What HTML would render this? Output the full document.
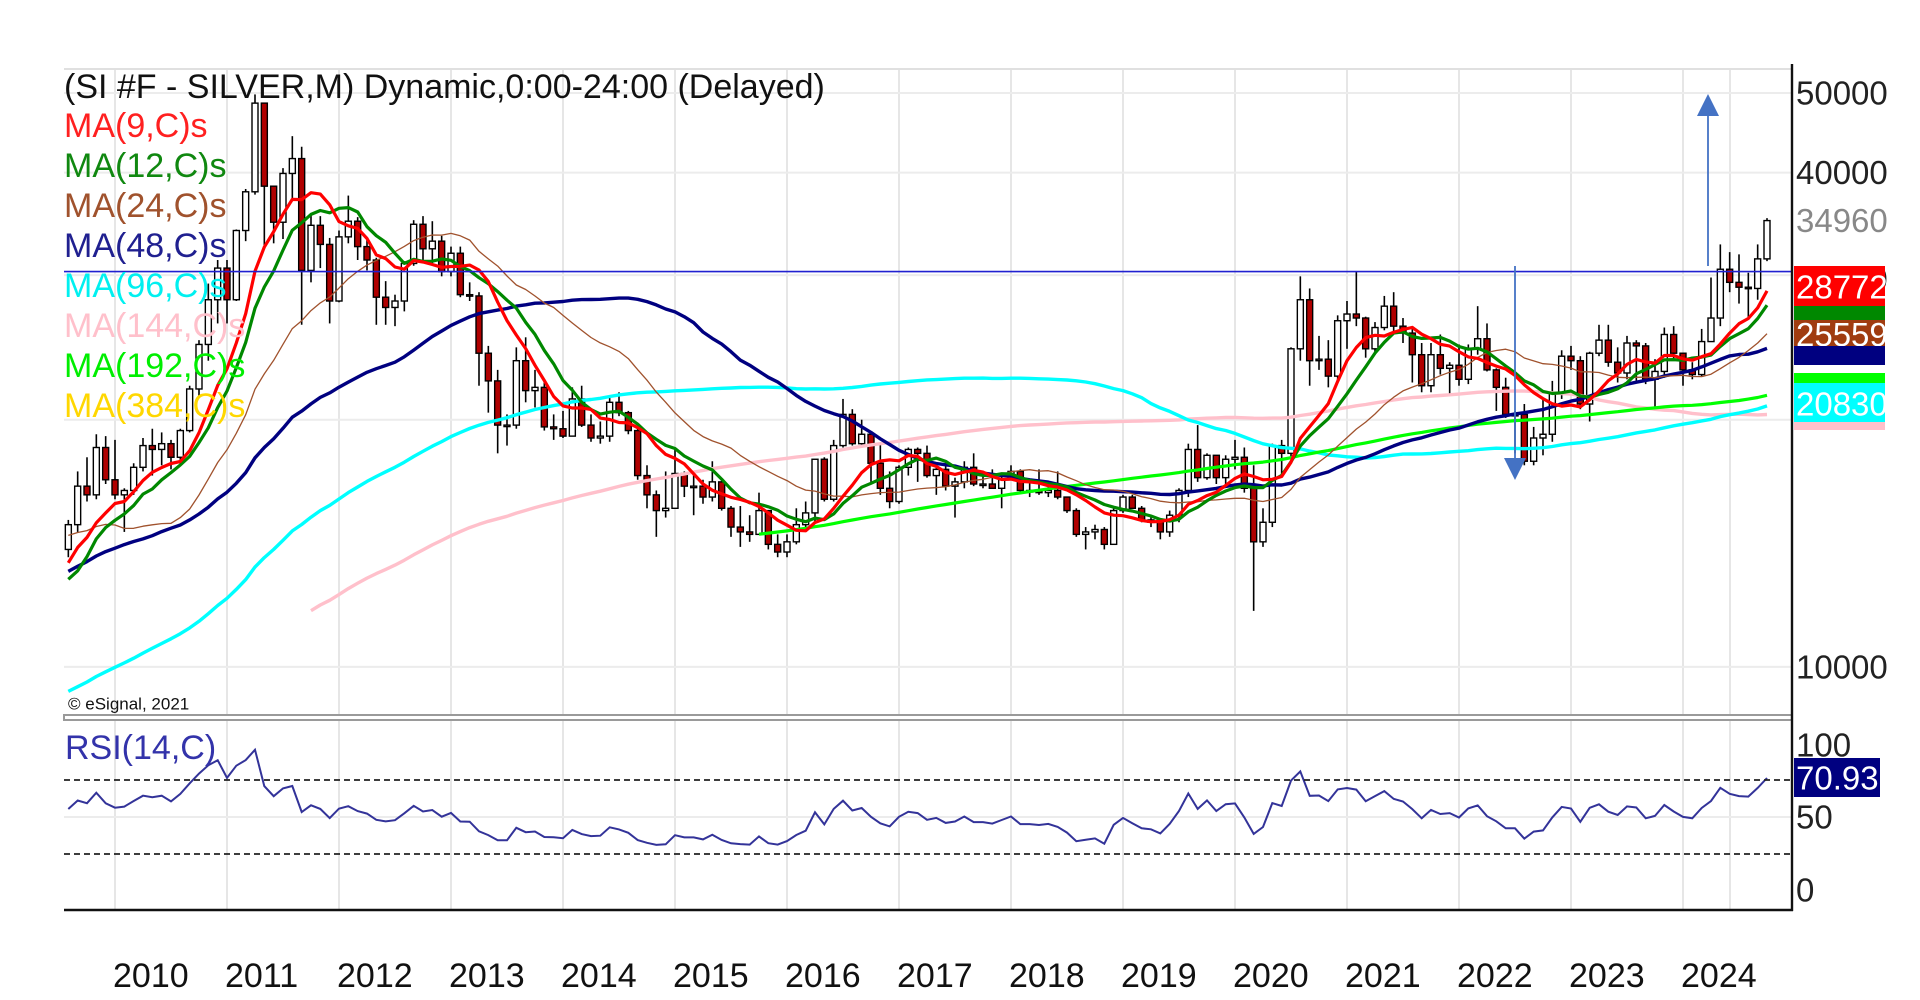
<!DOCTYPE html>
<html><head><meta charset="utf-8"><style>
html,body{margin:0;padding:0;background:#fff;width:1920px;height:1000px;overflow:hidden}
svg{display:block}
text{font-family:"Liberation Sans",Arial,sans-serif}
</style></head><body>
<svg id="chart" width="1920" height="1000" viewBox="0 0 1920 1000" xmlns="http://www.w3.org/2000/svg">
<defs>
<clipPath id="pclip"><rect x="64" y="68" width="1728" height="648"/></clipPath>
<clipPath id="rclip"><rect x="64" y="724" width="1728" height="186"/></clipPath>
</defs>
<g id="grid"></g>
<g id="candles" clip-path="url(#pclip)"></g>
<g id="mas" clip-path="url(#pclip)"></g>
<g id="rsi" clip-path="url(#rclip)"></g>
<g id="axes"></g>
<g id="labels"></g>
</svg>
<script>
// ---- data (USD * 1000 / oz, monthly) ----
const priorCloses = [5.1,5.4,
5.3,5.1,5.0,5.0,5.0,5.0,4.9,4.9,4.9,4.8,4.7,4.6,
4.7,4.4,4.3,4.4,4.4,4.3,4.2,4.2,4.6,4.2,4.1,4.6,
4.2,4.5,4.5,4.6,4.8,4.9,4.6,4.5,4.5,4.5,4.5,4.8,
4.8,4.6,4.4,4.6,4.6,4.6,5.1,5.0,5.2,5.0,5.4,5.9,
6.2,6.7,7.8,6.1,6.0,5.9,6.6,6.7,7.0,7.3,7.6,6.8,
6.7,7.4,7.1,6.9,7.4,7.0,7.1,6.9,7.5,7.7,8.3,8.9,
9.8,9.6,11.6,13.5,12.3,10.7,11.3,12.9,11.5,12.6,13.9,12.9,
13.4,14.3,13.4,13.4,13.4,12.5,12.9,12.0,13.8,14.3,14.4,14.8,
16.8,19.8,17.4,16.5,17.0,17.5,17.7,13.6,12.9,9.8,10.2,11.3,
12.6,13.1,13.1,12.5,15.6,13.5,13.9];
const closes = [14.9,16.6,16.2,18.5,16.9,
16.2,16.4,17.5,18.6,18.4,18.7,18.0,19.4,21.8,24.7,28.0,30.6,
28.0,34.0,37.9,48.6,38.5,34.8,39.9,41.6,30.4,34.5,32.7,27.9,
33.4,34.9,32.5,31.3,28.2,27.4,27.9,31.0,34.6,32.3,33.0,30.3,
31.9,28.4,28.3,24.1,22.3,19.7,19.7,23.6,21.7,21.9,19.6,19.5,
19.1,21.2,19.7,19.0,19.1,21.0,20.4,19.4,17.1,16.2,15.5,15.6,
17.2,16.6,16.6,16.1,16.8,15.6,14.8,14.6,14.5,15.5,14.1,13.8,
14.2,14.9,15.4,17.9,16.0,18.6,20.3,18.7,19.2,17.7,16.5,15.9,
17.5,18.4,18.2,17.1,17.4,16.6,16.8,17.5,16.7,16.7,16.5,16.9,
17.3,16.4,16.4,16.3,16.4,16.1,15.5,14.5,14.6,14.7,14.1,15.5,
16.1,15.6,15.1,15.0,14.6,15.3,16.4,18.4,17.0,18.1,17.0,17.9,
18.0,16.5,14.2,15.0,18.6,18.2,24.4,28.0,23.6,23.7,22.6,26.4,
26.9,26.6,24.4,25.9,27.5,26.0,25.5,24.0,22.0,24.0,23.1,23.3,
22.4,24.4,25.1,23.0,21.9,20.3,20.3,17.8,19.0,19.2,21.6,23.9,
23.6,20.9,24.1,25.0,23.5,22.8,24.8,24.6,22.4,22.9,25.4,24.1,
23.0,22.7,24.9,26.6,30.5,29.4,29.0,28.9,31.4,34.96];
const highs = [15.1,17.3,18.0,19.2,19.1,
18.9,16.5,17.7,19.0,19.5,19.3,18.9,19.5,22.0,25.0,29.3,31.3,
31.3,34.1,38.2,49.8,48.6,38.3,40.5,44.3,43.0,35.5,35.4,33.3,
34.0,37.5,35.3,33.2,31.5,29.5,28.4,31.2,35.0,35.4,34.9,33.5,
32.5,32.5,29.4,28.6,24.6,23.0,20.3,24.5,25.2,23.0,22.3,20.3,
20.5,21.9,22.0,20.3,19.9,21.4,21.6,20.5,19.6,17.6,16.4,17.3,
18.5,17.3,17.3,16.9,17.8,16.9,15.7,15.7,15.3,16.3,15.5,14.5,
14.5,15.6,15.9,17.9,18.0,18.9,21.2,20.6,20.0,19.3,18.7,17.3,
17.6,18.5,18.5,18.6,17.6,17.8,17.0,17.8,18.2,17.3,17.4,17.1,
17.6,17.4,16.8,17.4,16.7,17.3,16.1,15.6,14.8,14.9,14.8,15.6,
16.2,16.2,15.7,15.3,15.0,15.5,16.5,18.7,19.7,18.2,18.1,18.1,
18.9,18.5,17.6,15.6,18.7,18.9,24.5,29.9,28.9,25.3,25.0,26.8,
27.9,30.3,26.7,26.3,28.3,28.6,26.6,26.0,24.8,24.8,25.4,23.5,
24.7,24.7,27.5,26.2,23.1,22.5,20.5,20.9,19.6,21.2,22.3,24.3,
24.6,23.9,24.2,26.1,26.1,24.5,25.3,25.0,24.8,23.7,25.9,26.0,
24.1,23.5,25.8,29.8,32.7,32.0,31.8,30.2,32.7,35.2];
const lows = [13.6,14.6,15.9,16.0,16.7,
16.0,14.6,16.2,17.3,17.1,17.6,17.4,17.6,19.3,21.4,23.6,26.2,
26.2,27.9,33.0,37.6,32.3,32.8,33.2,37.0,26.1,29.4,30.6,26.2,
27.8,32.8,31.3,30.4,26.1,26.1,26.0,27.1,30.8,31.0,30.9,29.9,
29.9,28.2,27.9,22.0,20.4,18.2,18.6,19.5,21.0,20.7,19.4,18.9,
19.0,19.3,19.6,18.8,18.7,18.8,20.2,19.2,16.9,15.6,14.4,15.2,
15.6,16.1,15.3,15.8,15.9,15.5,14.4,14.0,14.2,14.5,13.9,13.6,
13.6,14.1,14.8,15.0,15.9,15.9,18.5,18.6,18.6,16.8,16.2,15.6,
15.8,17.1,16.8,17.0,16.2,16.4,15.2,16.5,16.6,16.5,16.5,15.6,
16.9,16.3,16.1,16.2,16.1,16.0,15.4,14.4,13.9,14.3,13.9,14.2,
15.4,15.6,15.0,14.8,14.3,14.4,15.0,16.1,16.8,16.9,16.7,16.6,
17.4,16.3,11.7,14.0,14.8,17.1,18.0,23.6,22.0,23.0,21.9,22.2,
24.4,26.0,23.8,24.0,25.7,25.6,24.8,22.2,21.6,21.6,22.7,21.5,
22.0,22.1,24.0,22.9,20.5,20.1,18.2,17.6,17.6,18.1,18.8,21.2,
23.0,20.6,19.9,23.9,23.2,22.2,22.4,22.3,22.1,20.7,22.5,23.6,
22.0,22.4,22.6,25.0,26.0,28.6,27.7,26.5,28.0,31.2];
const firstMonth = -5; // Aug 2009 relative to Jan 2010
const yearLabels = ["2010","2011","2012","2013","2014","2015","2016","2017","2018","2019","2020","2021","2022","2023","2024"];
const priceTicks = [50000,40000,10000];
const priceGrid = [10000,20000,30000,40000,50000];
const rsiTicks = [100,50,0];
const maPeriods = [9,12,24,48,96,144,192];
const resistance = 30300;
const lastPrice = 34960;

// ---- scales ----
const SVGNS="http://www.w3.org/2000/svg";
const X0=115, MW=112/12;
function xM(m){return X0+MW*m;}
function yP(v){return 93+(Math.log10(50000)-Math.log10(v))*821;}
function yR(v){return 817-(v-50)*1.85;}
function mk(tag,attrs,parent){const e=document.createElementNS(SVGNS,tag);for(const k in attrs)e.setAttribute(k,attrs[k]);parent.appendChild(e);return e;}
const G=id=>document.getElementById(id);

// grid
const grid=G('grid');
yearLabels.forEach((y,k)=>{
  const l=mk('line',{x1:xM(12*k),x2:xM(12*k),y1:68,y2:910,stroke:'#e6e6e6','stroke-width':2},grid);
  
  
});
const xl=mk('line',{x1:1730,x2:1730,y1:68,y2:910,stroke:'#e6e6e6','stroke-width':2},grid);


priceGrid.forEach(v=>{
  const l=mk('line',{x1:64,x2:1792,y1:yP(v),y2:yP(v),stroke:'#ececec','stroke-width':2},grid);
  
  
});
const rg=mk('line',{x1:64,x2:1792,y1:yR(50),y2:yR(50),stroke:'#ececec','stroke-width':2},grid);



const all=priorCloses.concat(closes).map(v=>v*1000);
const off=priorCloses.length;

// candles
const cg=G('candles');
for(let i=0;i<closes.length;i++){
  const m=firstMonth+i, x=xM(m);
  const c=closes[i]*1000, o=all[off+i-1], h=highs[i]*1000, l=lows[i]*1000;
  const w=mk('line',{x1:x,x2:x,y1:yP(h),y2:yP(l),stroke:'#000','stroke-width':1.6},cg);
  
  
  const top=yP(Math.max(o,c)), bot=yP(Math.min(o,c));
  const b=mk('rect',{x:x-3,y:top,width:6,height:Math.max(1.5,bot-top),fill:c>=o?'#fff':'#b00000',stroke:'#000','stroke-width':1.4},cg);
  
  
}

// MAs
const mg=G('mas');
const maStyle={9:['#ff0000',3.2],12:['#008800',3.2],24:['#a0522d',1.3],48:['#000080',3.4],96:['#00ffff',3.4],144:['#ffc0cb',3.4],192:['#00ff00',3.2]};
const order=[144,96,192,48,24,12,9];
order.forEach(p=>{
  let d='';
  for(let i=0;i<closes.length;i++){
    const idx=off+i; if(idx-p+1<0) continue;
    let s=0; for(let j=idx-p+1;j<=idx;j++) s+=all[j];
    d+=(d?'L':'M')+xM(firstMonth+i).toFixed(1)+','+yP(s/p).toFixed(1);
  }
  const pa=mk('path',{d:d,fill:'none',stroke:maStyle[p][0],'stroke-width':maStyle[p][1],'stroke-linejoin':'round'},mg);
  
  
});

// resistance line & arrows
const rl=mk('line',{x1:64,x2:1792,y1:yP(resistance),y2:yP(resistance),stroke:'#2020d0','stroke-width':1.6},mg);


const a1=mk('line',{x1:1708,x2:1708,y1:266,y2:112,stroke:'#4472c4','stroke-width':1.8},G('labels'));


const a1h=mk('polygon',{points:'1708,94 1697,116 1719,116',fill:'#4472c4'},G('labels'));


const a2=mk('line',{x1:1515,x2:1515,y1:266,y2:462,stroke:'#4472c4','stroke-width':1.8},G('labels'));


const a2h=mk('polygon',{points:'1515,480 1504,458 1526,458',fill:'#4472c4'},G('labels'));



// RSI (Wilder 14)
const rgp=G('rsi');
let ag=0,al=0; const rsiVals=[];
for(let j=1;j<all.length;j++){
  const ch=all[j]-all[j-1], g=Math.max(ch,0), lo=Math.max(-ch,0);
  if(j<=14){ag+=g/14;al+=lo/14;} else {ag=(ag*13+g)/14;al=(al*13+lo)/14;}
  rsiVals[j]=al===0?100:100-100/(1+ag/al);
}
let rd='';
for(let i=0;i<closes.length;i++){
  const v=rsiVals[off+i];
  rd+=(rd?'L':'M')+xM(firstMonth+i).toFixed(1)+','+yR(v).toFixed(1);
}
const rp=mk('path',{d:rd,fill:'none',stroke:'#333399','stroke-width':2},rgp);


[70,30].forEach(v=>{
  const l=mk('line',{x1:64,x2:1792,y1:yR(v),y2:yR(v),stroke:'#222','stroke-width':1.8,'stroke-dasharray':'6,4'},rgp);
  
  
});

// axes
const ax=G('axes');
const t1=mk('line',{x1:64,x2:1792,y1:69,y2:69,stroke:'#e0e0e0','stroke-width':2},ax);


const s1=mk('rect',{x:64,y:715,width:1728,height:5,fill:'#fff',stroke:'#9a9a9a','stroke-width':2},ax);


const b1=mk('line',{x1:64,x2:1793,y1:910,y2:910,stroke:'#111','stroke-width':2.4},ax);


const r1=mk('line',{x1:1792,x2:1792,y1:64,y2:911,stroke:'#111','stroke-width':2.4},ax);



const lb=G('labels');
function txt(s,x,y,size,fill,name,anchor){const t=mk('text',{x:x,y:y,'font-size':size,fill:fill,'dominant-baseline':'central','text-anchor':anchor||'start'},lb);t.textContent=s;return t;}
yearLabels.forEach((y,k)=>txt(y,xM(12*k)-2,976,34,'#111','x-tick-label'));
priceTicks.forEach(v=>txt(String(v),1796,yP(v),33,'#222','y-tick-label'));
txt(String(lastPrice),1796,yP(lastPrice),33,'#888','last-price-label');
txt('30000',1796,279,33,'#222','resistance-label');
// right value boxes
const boxes=[[266,'#ff0000','28772','ma9-value'],[306,'#008800','27000','ma12-value'],[320,'#a03c10','25559','ma24-value'],[346,'#000080','24400','ma48-value'],[373,'#00ff00','22100','ma192-value'],[383,'#00ffff','20830','ma96-value'],[422,'#ffc0cb','20200','ma144-value']];
const bh={266:40,306:14,320:27,346:19,373:10,383:40,422:8};
boxes.forEach(b=>{
  const r=mk('rect',{x:1794,y:b[0],width:91,height:bh[b[0]],fill:b[1]},lb);
  
  
  if(bh[b[0]]>=25) txt(b[2],1796,b[0]+bh[b[0]]/2+1,33,'#fff',b[3]);
});
rsiTicks.forEach(v=>txt(String(v),1796,v===100?745:(v===50?817:890),33,'#222','rsi-tick-label'));
const rb=mk('rect',{x:1794,y:758,width:86,height:39,fill:'#000080'},lb);


txt('70.93',1796,778,33,'#fff','rsi-value');

// legend
txt('(SI #F - SILVER,M) Dynamic,0:00-24:00 (Delayed)',64,87,34,'#111','chart-title');
const leg=[['MA(9,C)s','#ff2020'],['MA(12,C)s','#108810'],['MA(24,C)s','#a0522d'],['MA(48,C)s','#202090'],['MA(96,C)s','#00f0f0'],['MA(144,C)s','#ffc0cb'],['MA(192,C)s','#00ee00'],['MA(384,C)s','#ffd700']];
leg.forEach((l,k)=>txt(l[0],64,126+40*k,34,l[1],'legend-entry'));
txt('© eSignal, 2021',68,704,17,'#111','copyright');
txt('RSI(14,C)',65,748,34,'#3333aa','rsi-title');
</script>
</body></html>
